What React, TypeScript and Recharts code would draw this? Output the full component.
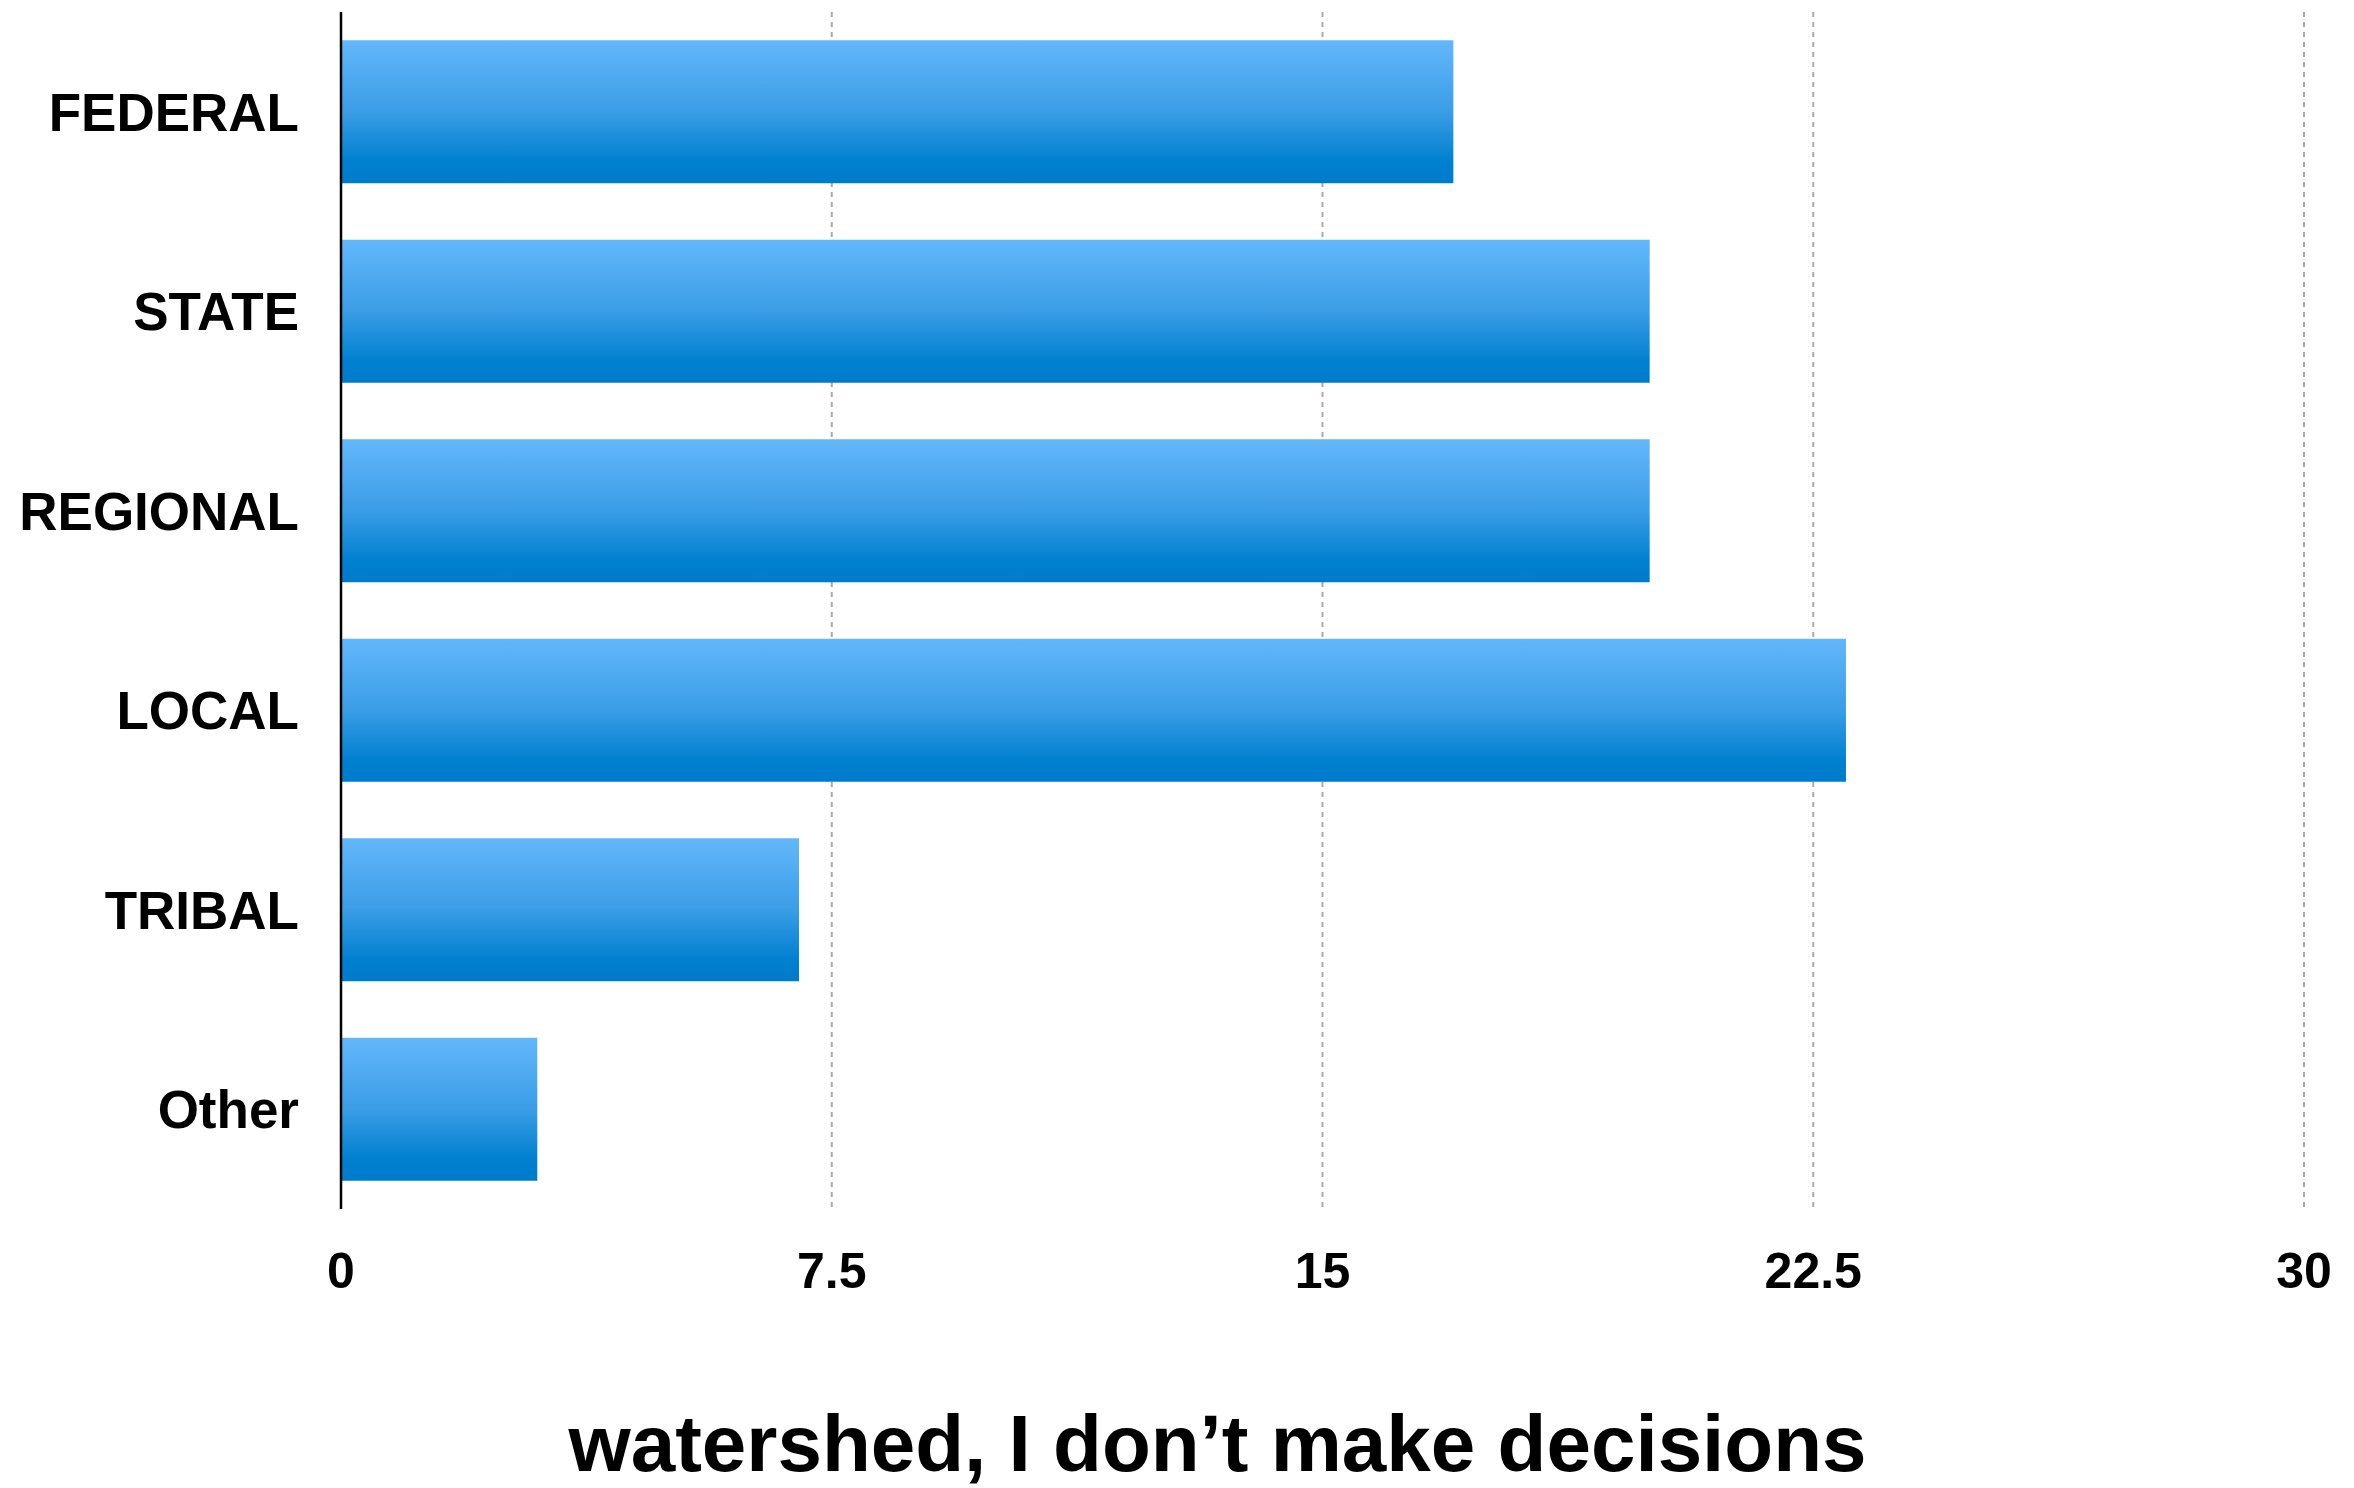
import React from "react";
import { BarChart, Bar, XAxis, YAxis, CartesianGrid, Label } from "recharts";

const categories = ["FEDERAL", "STATE", "REGIONAL", "LOCAL", "TRIBAL", "Other"];
const values = [17, 20, 20, 23, 7, 3];
const xTicks = [0, 7.5, 15, 22.5, 30];
const axisTitle = "watershed, I don\u2019t make decisions";

const data = categories.map((name, i) => ({ name, value: values[i] }));

const FONT = '"Liberation Sans", Arial, Helvetica, sans-serif';

function AxisTitle(props: any) {
  const vb = props.viewBox || {};
  const cx = vb.x + vb.width / 2 - 105;
  return (
    <text
      x={cx}
      y={vb.y + 262}
      textAnchor="middle"
      fontFamily={FONT}
      fontWeight="bold"
      fontSize={80}
      fill="#000"
    >
      {axisTitle}
    </text>
  );
}

export default function App() {
  return (
    <div style={{ position: "absolute", left: 0, top: 0, width: 2354, height: 1488, background: "#fff" }}>
      <BarChart
        width={2354}
        height={1488}
        data={data}
        layout="vertical"
        margin={{ top: 12, right: 50, left: 0, bottom: 0 }}
        barCategoryGap="14.2%"
      >
        <defs>
          <linearGradient id="barBlue" x1="0" y1="0" x2="0" y2="1">
            <stop offset="0%" stopColor="#63B7FB" />
            <stop offset="50%" stopColor="#3A9DE6" />
            <stop offset="85%" stopColor="#0080D0" />
            <stop offset="100%" stopColor="#007BCC" />
          </linearGradient>
        </defs>
        <CartesianGrid horizontal={false} vertical stroke="#aaaaaa" strokeWidth={2} strokeDasharray="5 5" />
        <XAxis
          type="number"
          domain={[0, 30]}
          ticks={xTicks}
          interval={0}
          height={279}
          axisLine={false}
          tickLine={false}
          tickSize={0}
          tickMargin={43}
          tick={{ fontFamily: FONT, fontWeight: "bold", fontSize: 50, fill: "#000" }}
        >
          <Label content={<AxisTitle />} />
        </XAxis>
        <YAxis
          type="category"
          dataKey="name"
          width={341}
          axisLine={{ stroke: "#000", strokeWidth: 2.5 }}
          tickLine={false}
          tickSize={0}
          tickMargin={42}
          tick={{ fontFamily: FONT, fontWeight: "bold", fontSize: 53, fill: "#000" }}
        />
        <Bar dataKey="value" fill="url(#barBlue)" isAnimationActive={false} />
      </BarChart>
    </div>
  );
}
